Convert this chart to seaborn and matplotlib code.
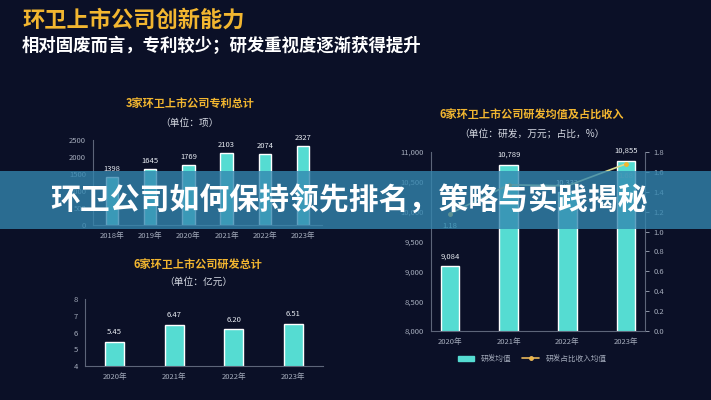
import numpy as np
import matplotlib
matplotlib.use("Agg")
import matplotlib.pyplot as plt
import seaborn as sns
from matplotlib.patches import Rectangle, Patch
from matplotlib.lines import Line2D
from matplotlib.ticker import StrMethodFormatter

# data
patent_years = ["2018年", "2019年", "2020年", "2021年", "2022年", "2023年"]
patent_counts = [1398, 1645, 1769, 2103, 2074, 2327]

rd_years = ["2020年", "2021年", "2022年", "2023年"]
rd_total = [5.45, 6.47, 6.20, 6.51]          # 亿元
rd_mean = [9084, 10789, 10332, 10855]        # 万元
rd_ratio = [1.18, 1.47, 1.46, 1.68]          # %

BG = "#0b1027"
BAR = "#55dcd2"
GOLD = "#f2b630"
GREY = "#a4abbb"
SPINE = "#5d6579"
LINE = "#d9d98e"

sns.set_theme(style="dark")
plt.rcParams["font.family"] = ["Noto Sans CJK SC", "DejaVu Sans"]
plt.rcParams["axes.unicode_minus"] = False

W, H = 711, 400
fig = plt.figure(figsize=(W / 100, H / 100), dpi=100, facecolor=BG)


def px(x, y):
    return x / W, 1 - y / H


def box(x0, y0, x1, y1):
    # axes rect from pixel corners (top-left origin)
    return [x0 / W, 1 - y1 / H, (x1 - x0) / W, (y1 - y0) / H]


def style(ax):
    ax.set_facecolor("none")
    for s in ax.spines.values():
        s.set_visible(False)
    for s in ("left", "bottom"):
        ax.spines[s].set_visible(True)
        ax.spines[s].set_color(SPINE)
        ax.spines[s].set_linewidth(0.8)
    ax.tick_params(colors=GREY, labelsize=5.5, length=0, pad=5)
    ax.set_xlabel("")
    ax.set_ylabel("")
    ax.grid(False)


# header
fig.text(*px(22, 20), "环卫上市公司创新能力", color=GOLD, fontsize=16,
         fontweight="bold", va="center")
fig.text(*px(22, 46), "相对固废而言，专利较少；研发重视度逐渐获得提升", color="white",
         fontsize=12.5, fontweight="bold", va="center")

# patents
ax1 = fig.add_axes(box(93, 140, 322, 225))
sns.barplot(x=patent_years, y=patent_counts, color=BAR, saturation=1, width=0.32, ax=ax1)
style(ax1)
ax1.set_ylim(0, 2500)
ax1.set_yticks([0, 500, 1000, 1500, 2000, 2500])
ax1.bar_label(ax1.containers[0], labels=[str(v) for v in patent_counts],
              padding=3, color="#e8ecf2", fontsize=5.5)
fig.text(*px(190, 103), "3家环卫上市公司专利总计", color=GOLD, fontsize=8,
         fontweight="bold", ha="center", va="center")
fig.text(*px(190, 123), "（单位：项）", color="#d6dae3", fontsize=7, ha="center", va="center")

# R&D total
ax2 = fig.add_axes(box(85, 299, 323, 366))
sns.barplot(x=rd_years, y=rd_total, color=BAR, saturation=1, width=0.32, ax=ax2)
style(ax2)
ax2.set_ylim(4, 8)
ax2.set_yticks([4, 5, 6, 7, 8])
ax2.bar_label(ax2.containers[0], labels=[f"{v:.2f}" for v in rd_total],
              padding=4, color="#e8ecf2", fontsize=5.5)
fig.text(*px(198, 264), "6家环卫上市公司研发总计", color=GOLD, fontsize=8,
         fontweight="bold", ha="center", va="center")
fig.text(*px(198, 282), "（单位：亿元）", color="#d6dae3", fontsize=7, ha="center", va="center")

# R&D mean and share of revenue
ax3 = fig.add_axes(box(431, 152, 645, 331))
sns.barplot(x=rd_years, y=rd_mean, color=BAR, saturation=1, width=0.32, ax=ax3)
style(ax3)
ax3.set_ylim(8000, 11000)
ax3.set_yticks(np.arange(8000, 11001, 500))
ax3.yaxis.set_major_formatter(StrMethodFormatter("{x:,.0f}"))
ax3.bar_label(ax3.containers[0], labels=[f"{v:,}" for v in rd_mean],
              padding=4, color="#e8ecf2", fontsize=5.5)

ax4 = ax3.twinx()
ax4.plot(np.arange(len(rd_ratio)), rd_ratio, color=LINE, lw=1.2,
         marker="o", ms=2.5, mfc=GOLD, mec=GOLD)
ax4.set_ylim(0, 1.8)
ax4.set_yticks(np.arange(0, 1.81, 0.2))
ax4.yaxis.set_major_formatter(StrMethodFormatter("{x:.1f}"))
ax4.grid(False)
for s in ("top", "left", "bottom"):
    ax4.spines[s].set_visible(False)
ax4.spines["right"].set_color(SPINE)
ax4.spines["right"].set_linewidth(0.8)
ax4.tick_params(colors=GREY, labelsize=5.5, length=3, width=0.6, pad=3)
for i, v in enumerate(rd_ratio):
    ax4.annotate(f"{v:.2f}", (i, v), xytext=(0, -6), textcoords="offset points",
                 ha="center", va="top", color="#9fd8d4", fontsize=5.5)

fig.text(*px(532, 115), "6家环卫上市公司研发均值及占比收入", color=GOLD, fontsize=8,
         fontweight="bold", ha="center", va="center")
fig.text(*px(532, 134), "（单位：研发，万元；占比，%）", color="#d6dae3", fontsize=7,
         ha="center", va="center")

handles = [Patch(color=BAR, label="研发均值"),
           Line2D([], [], color="#e8b65a", lw=1.2, marker="o", ms=2.5,
                  mfc=GOLD, label="研发占比收入均值")]
fig.legend(handles=handles, loc="center", bbox_to_anchor=px(532, 359), ncol=2,
           frameon=False, fontsize=5.5, labelcolor=GREY, handlelength=2.2,
           handleheight=0.6, columnspacing=1.5)

# banner overlay
fig.add_artist(Rectangle((0, 1 - 229 / H), 1, 58 / H, transform=fig.transFigure,
                         facecolor="#3387b0", alpha=0.78, edgecolor="none", zorder=10))
fig.text(*px(349, 200), "环卫公司如何保持领先排名，策略与实践揭秘", color="white",
         fontsize=21.5, fontweight="bold", ha="center", va="center", zorder=11)

fig.savefig("out.png", dpi=100, facecolor=BG)
